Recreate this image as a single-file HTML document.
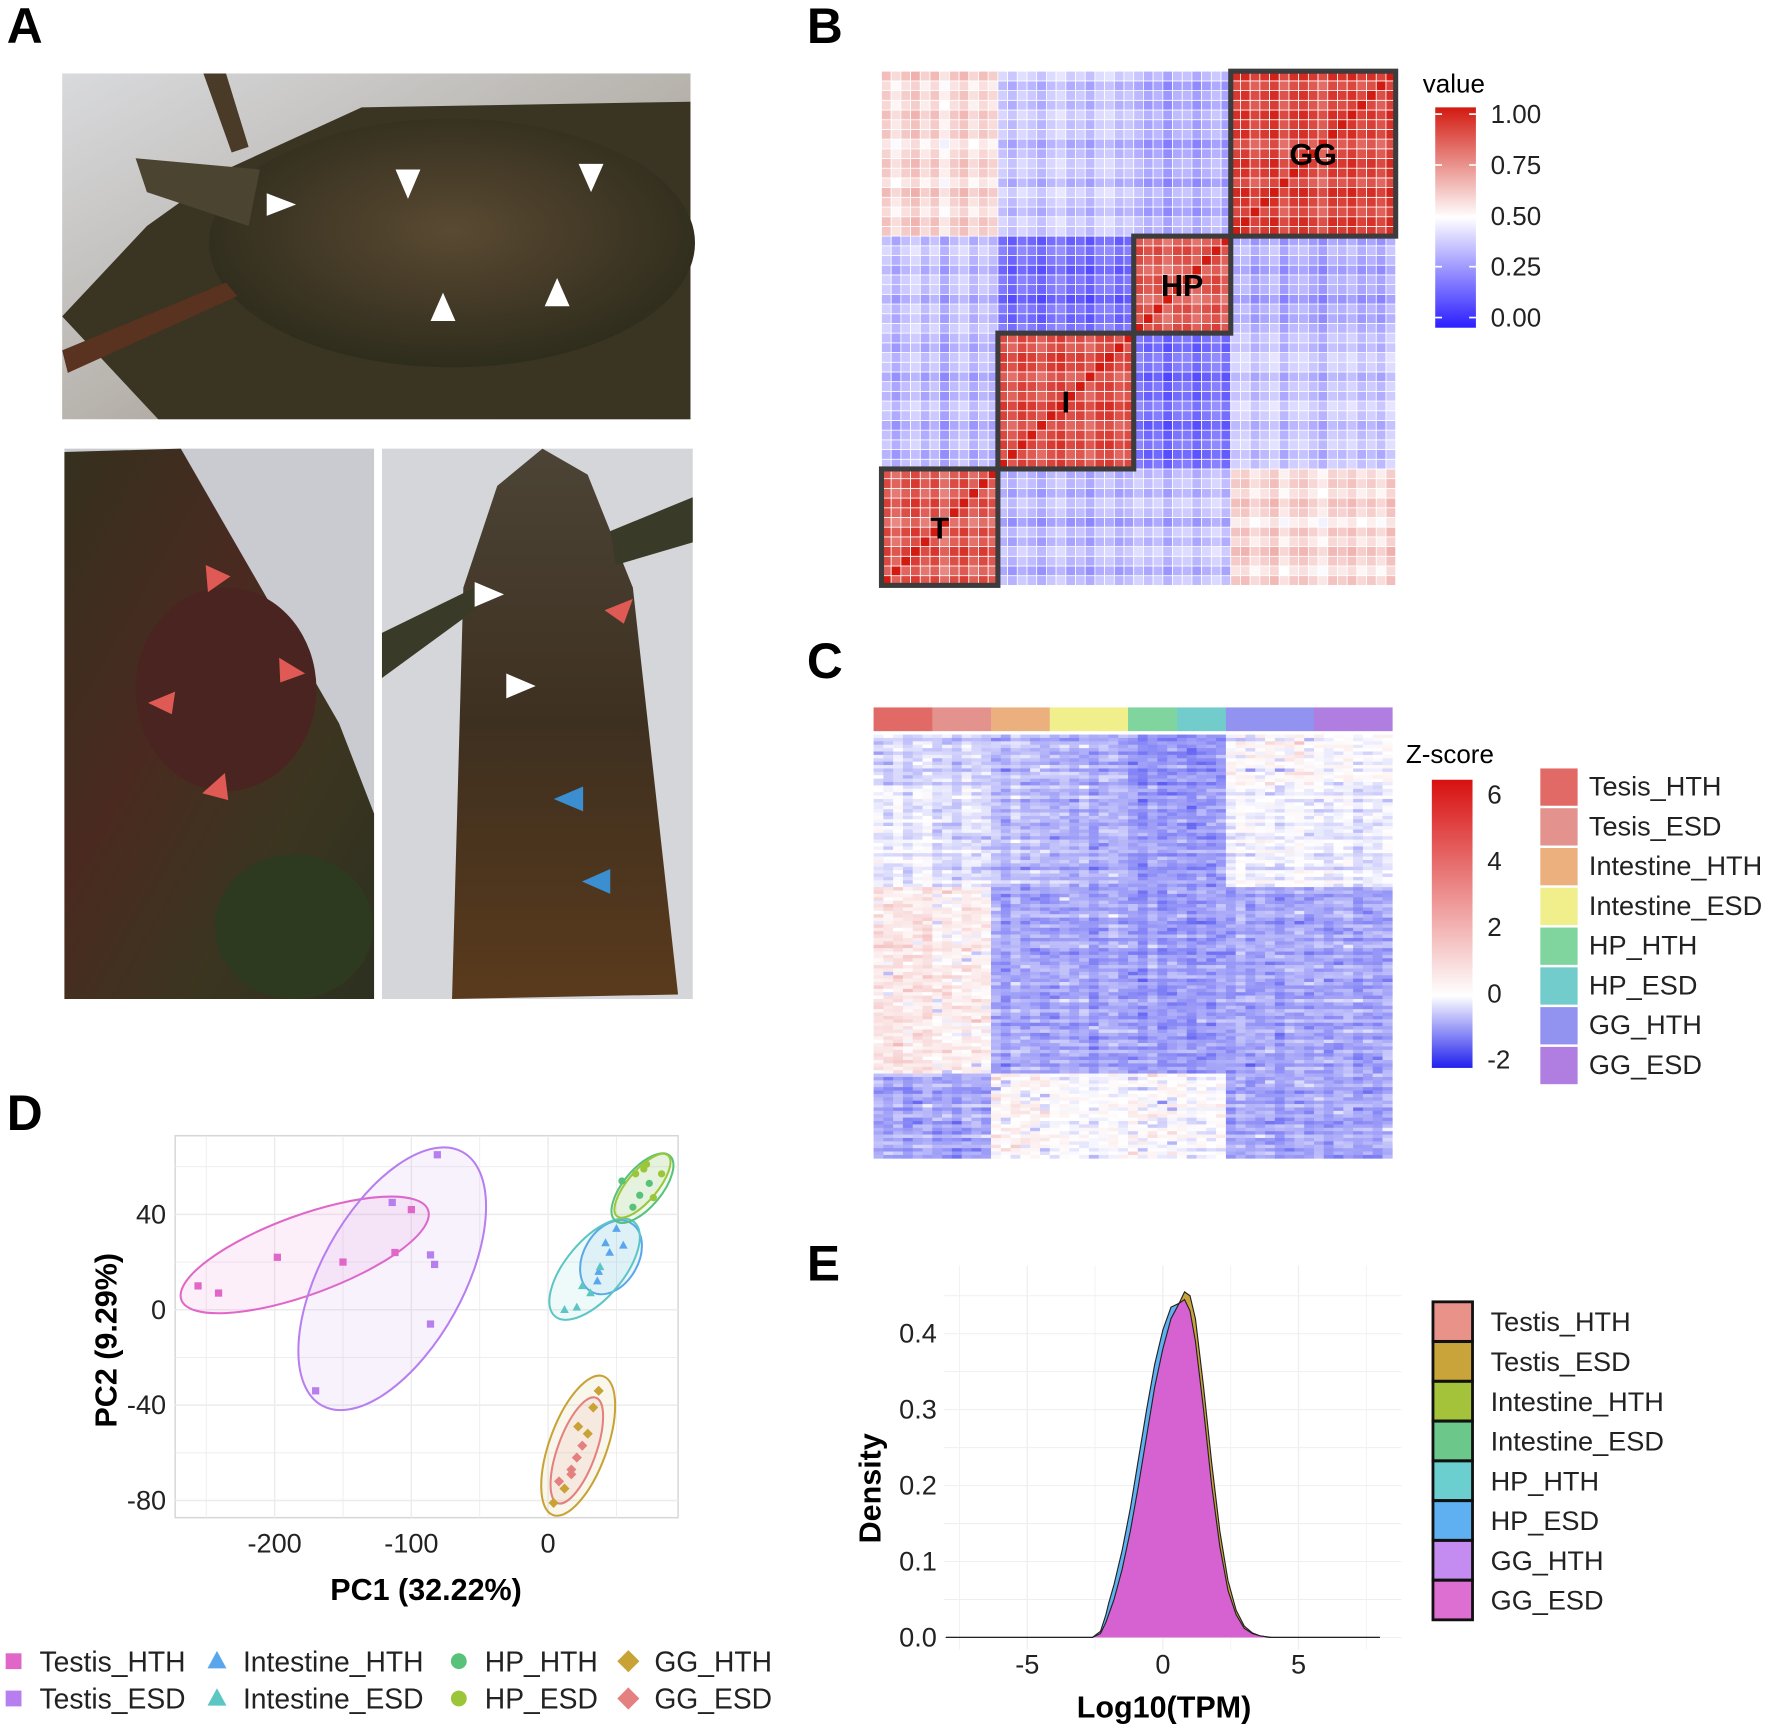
<!DOCTYPE html>
<html><head><meta charset="utf-8"><style>
html,body{margin:0;padding:0;background:#fff;}
svg{display:block;font-family:"Liberation Sans",Arial,sans-serif;}
</style></head><body>
<svg id="fig" width="1772" height="1729" viewBox="0 0 1568 1530" preserveAspectRatio="none" xmlns="http://www.w3.org/2000/svg">
<defs>
<linearGradient id="bgTop" x1="0" y1="0" x2="1" y2="1"><stop offset="0" stop-color="#d9dadd"/><stop offset="0.5" stop-color="#b8b4ae"/><stop offset="1" stop-color="#8f887c"/></linearGradient>
<radialGradient id="shell" cx="0.5" cy="0.45" r="0.6"><stop offset="0" stop-color="#5a4a32"/><stop offset="0.6" stop-color="#3e3624"/><stop offset="1" stop-color="#2a2a1a"/></radialGradient>
<linearGradient id="tailL" x1="0" y1="0" x2="1" y2="1"><stop offset="0" stop-color="#35301f"/><stop offset="0.4" stop-color="#4a2a20"/><stop offset="0.7" stop-color="#3b3520"/><stop offset="1" stop-color="#2d3020"/></linearGradient>
<linearGradient id="tailR" x1="0" y1="0" x2="0" y2="1"><stop offset="0" stop-color="#4c4436"/><stop offset="0.5" stop-color="#3e3020"/><stop offset="1" stop-color="#5a3a1c"/></linearGradient>
<linearGradient id="cbB" x1="0" y1="1" x2="0" y2="0"><stop offset="0" stop-color="#2b1eff"/><stop offset="0.5" stop-color="#ffffff"/><stop offset="1" stop-color="#d21a10"/></linearGradient>
<linearGradient id="cbC" x1="0" y1="1" x2="0" y2="0"><stop offset="0" stop-color="#2020ee"/><stop offset="0.25" stop-color="#ffffff"/><stop offset="1" stop-color="#d81010"/></linearGradient>
<clipPath id="clipD"><rect x="155" y="1005" width="445" height="338"/></clipPath>
</defs>

<text x="6" y="38" font-size="44" font-weight="bold">A</text>
<text x="714" y="38" font-size="44" font-weight="bold">B</text>
<text x="714" y="600" font-size="44" font-weight="bold">C</text>
<text x="6" y="1000" font-size="44" font-weight="bold">D</text>
<text x="714" y="1133" font-size="44" font-weight="bold">E</text>

<g>
<rect x="55" y="65" width="556" height="306" fill="url(#bgTop)"/>
<path d="M55,280 L130,200 L200,150 L320,95 L611,90 L611,371 L140,371 Z" fill="#3a3422"/>
<ellipse cx="400" cy="215" rx="215" ry="110" fill="url(#shell)"/>
<path d="M120,140 L230,150 L220,200 L130,170Z" fill="#4a4430"/>
<path d="M55,310 L200,250 L210,262 L60,330Z" fill="#5a3220"/>
<path d="M180,65 L200,65 L220,130 L205,135Z" fill="#4a3a28"/>
<polygon points="236,171 236,191 262,181" fill="#fff"/>
<polygon points="350,150 372,150 361,176" fill="#fff"/>
<polygon points="512,145 534,145 523,170" fill="#fff"/>
<polygon points="381,284 403,284 392,259" fill="#fff"/>
<polygon points="482,271 504,271 493,246" fill="#fff"/>
</g>
<g>
<rect x="57" y="397" width="274" height="487" fill="#c9cbd0"/>
<path d="M57,400 L160,397 L300,640 L331,720 L331,884 L57,884Z" fill="url(#tailL)"/>
<ellipse cx="200" cy="610" rx="80" ry="90" fill="#4a2420"/>
<ellipse cx="260" cy="820" rx="70" ry="64" fill="#2e3a20"/>
<polygon points="182,500 204,510 184,524" fill="#e05a55"/>
<polygon points="247,582 270,596 248,604" fill="#e05a55"/>
<polygon points="131,622 155,612 152,632" fill="#e05a55"/>
<polygon points="179,702 199,684 202,708" fill="#e05a55"/>
</g>
<g>
<rect x="338" y="397" width="275" height="487" fill="#d4d6da"/>
<path d="M400,884 L410,520 L440,430 L480,397 L520,420 L560,520 L600,880Z" fill="url(#tailR)"/>
<path d="M338,560 L420,520 L420,540 L338,600Z" fill="#3a3a28"/>
<path d="M540,470 L613,440 L613,480 L545,500Z" fill="#3a3a28"/>
<polygon points="420,515 420,537 446,526" fill="#fff"/>
<polygon points="448,596 448,618 474,607" fill="#fff"/>
<polygon points="535,540 560,530 552,552" fill="#e05a55"/>
<polygon points="490,707 516,696 516,718" fill="#3b8fd0"/>
<polygon points="515,780 540,769 540,791" fill="#3b8fd0"/>
</g>

<g id="panelB"></g>
<g id="panelC"></g>
<g id="panelD"></g>
<g id="panelE"></g>
</svg>

<script>
// ===== Panel B data =====
const bGroups = ["T","I","HP","GG"];
const bGroupSizes = [12,14,10,17];
const bGroupCorr = [
  [0.86,0.33,0.35,0.58],
  [0.33,0.88,0.17,0.36],
  [0.35,0.17,0.85,0.30],
  [0.58,0.36,0.30,0.90]
];
const bSampleOffsets = [0.05,-0.08,0.03,0.10,-0.04,0.06,-0.12,0.02,0.08,-0.06,0.04,-0.02,
  0.03,-0.05,0.06,0.01,-0.07,0.04,0.09,-0.03,0.02,-0.08,0.05,0.07,-0.04,0.01,
  0.06,-0.02,0.04,-0.09,0.03,0.05,-0.06,0.02,0.08,-0.03,
  0.04,0.07,-0.05,0.02,0.09,-0.08,0.03,0.06,-0.02,-0.10,0.05,0.01,0.07,-0.04,0.03,-0.06,0.08];
const bTicks = [0,0.25,0.5,0.75,1.0];
const bTickLabels = ["0.00","0.25","0.50","0.75","1.00"];

// ===== Panel C data =====
const cGroups = ["Tesis_HTH","Tesis_ESD","Intestine_HTH","Intestine_ESD","HP_HTH","HP_ESD","GG_HTH","GG_ESD"];
const cGroupSizes = [6,6,6,8,5,5,9,8];
const cGroupColors = ["#e26a66","#e3928e","#ebb07e","#f1ee8c","#80d49e","#72cccc","#9292f0","#b07ee0"];
const cClusterRows = [15,30,55,25];
const cClusterMeans = [
  [-0.4,-0.4,-0.6,-0.7,-1.0,-1.0,0.1,0.0],
  [-0.2,-0.3,-0.6,-0.7,-0.9,-0.9,-0.1,-0.2],
  [0.6,0.4,-0.8,-0.8,-0.9,-0.9,-0.8,-0.8],
  [-0.8,-0.8,0.2,0.0,0.1,0.0,-0.8,-0.8]
];
const cRowNoise = [0.3,-0.4,0.1,0.6,-0.2,-0.5,0.4,0.0,-0.3,0.7,-0.6,0.2,0.5,-0.1,-0.7,0.3,0.1,-0.4,0.8,-0.2,0.0,0.4,-0.5,0.2,-0.3];
const cColNoise = [0.5,-0.3,0.8,-0.6,0.2,1.0,-0.4,0.3,-0.8,0.6,0.1,-0.2,0.4,-0.7,0.9,-0.1,0.3,-0.5,0.2,0.7,-0.3,0.5,-0.9,0.1,
  0.6,-0.2,0.4,-0.6,0.8,-0.4,0.2,0.5,-0.7,0.3,-0.1,0.6,-0.5,0.9,-0.3,0.1,0.4,-0.8,0.2,0.7,-0.2,0.5,-0.4,0.3,0.8,-0.6,0.1,-0.3,0.6];
const cTicks = [-2,0,2,4,6];

// ===== Panel D data =====
const dSeries = ["Testis_HTH","Testis_ESD","Intestine_HTH","Intestine_ESD","HP_HTH","HP_ESD","GG_HTH","GG_ESD"];
const dColors = ["#e066c8","#b77ef0","#5aa6ee","#5cc6c4","#58c27a","#9cc63a","#c9a236","#e48080"];
const dShapes = ["square","square","triangle","triangle","circle","circle","diamond","diamond"];
const dX_TestisHTH = [-256,-241,-198,-150,-112,-100];
const dY_TestisHTH = [10,7,22,20,24,42];
const dX_TestisESD = [-114,-81,-86,-83,-86,-170];
const dY_TestisESD = [45,65,23,19,-6,-34];
const dX_IntHTH = [37,42,50,45,55,36];
const dY_IntHTH = [16,28,34,24,27,12];
const dX_IntESD = [21,12,31,25,38];
const dY_IntESD = [1,0,7,10,18];
const dX_HPHTH = [54,62,67,74];
const dY_HPHTH = [54,43,48,53];
const dX_HPESD = [64,70,72,77,83];
const dY_HPESD = [57,59,61,47,57];
const dX_GGHTH = [4,12,22,29,37,33];
const dY_GGHTH = [-81,-75,-49,-52,-34,-41];
const dX_GGESD = [17,21,25,17,8];
const dY_GGESD = [-69,-62,-57,-67,-72];
const dEllCX = [-178,-114,46,34,69,69,22,21];
const dEllCY = [23,13,22,17,51,52,-57,-59];
const dEllA = [96,106,29,45,31,29,54,41];
const dEllB = [29,52,20,21,14,11,21,14];
const dEllAng = [-20,-61,-60,-50,-50,-50,-70,-70];
const dXTicks = [-200,-100,0];
const dYTicks = [40,0,-40,-80];

// ===== Panel E data =====
const eX = [-2.6,-2.3,-2.1,-2.0,-1.8,-1.5,-1.2,-0.9,-0.6,-0.3,0,0.3,0.6,0.8,1.0,1.2,1.5,1.8,2.1,2.4,2.7,3.0,3.3,3.6,4.0];
const eGold = [0,0.004,0.015,0.025,0.045,0.08,0.125,0.18,0.24,0.3,0.355,0.405,0.44,0.455,0.45,0.42,0.33,0.23,0.14,0.075,0.036,0.015,0.006,0.002,0];
const eBlue = [0,0.008,0.03,0.045,0.07,0.115,0.17,0.235,0.3,0.36,0.405,0.435,0.44,0.425,0.395,0.345,0.25,0.16,0.09,0.045,0.02,0.008,0.003,0.001,0];
const eMagenta = [0,0.005,0.02,0.03,0.05,0.09,0.14,0.2,0.265,0.33,0.38,0.42,0.44,0.445,0.43,0.39,0.3,0.2,0.12,0.062,0.03,0.012,0.005,0.002,0];
const eYTicks = [0,0.1,0.2,0.3,0.4];
const eXTicks = [-5,0,5];
const eLegend = ["Testis_HTH","Testis_ESD","Intestine_HTH","Intestine_ESD","HP_HTH","HP_ESD","GG_HTH","GG_ESD"];
const eLegendColors = ["#e8928a","#c9a43a","#a4c23a","#6cc88a","#6ccfcf","#5eb0f0","#c48cf0","#de6fd2"];

const NS = "http://www.w3.org/2000/svg";
function mk(tag, attrs, parent){ const e=document.createElementNS(NS,tag); for(const k in attrs) e.setAttribute(k,attrs[k]); parent.appendChild(e); return e; }
function lerp(a,b,t){return Math.round(a+(b-a)*t);}
function colB(v){ v=Math.max(0,Math.min(1,v));
  if(v<0.5){const t=v/0.5; return `rgb(${lerp(43,255,t)},${lerp(30,255,t)},255)`;}
  const t=(v-0.5)/0.5; return `rgb(${lerp(255,210,t)},${lerp(255,26,t)},${lerp(255,16,t)})`; }
function colC(z){ z=Math.max(-2,Math.min(6,z));
  if(z<0){const t=(z+2)/2; return `rgb(${lerp(32,255,t)},${lerp(32,255,t)},${lerp(238,255,t)})`;}
  const t=z/6; return `rgb(${lerp(255,216,t)},${lerp(255,16,t)},${lerp(255,16,t)})`; }

// ---------- Panel B ----------
(function(){
  const g=document.getElementById("panelB");
  const x0=780,y0=63,size=455;
  const n=bGroupSizes.reduce((a,b)=>a+b,0);
  const cell=size/n;
  const grp=[]; bGroupSizes.forEach((s,gi)=>{for(let k=0;k<s;k++)grp.push(gi);});
  for(let r=0;r<n;r++){
    for(let c=0;c<n;c++){
      let v = r===c ? 1 : bGroupCorr[grp[r]][grp[c]] + 0.5*bSampleOffsets[r] + 0.5*bSampleOffsets[c];
      const rc=mk("rect",{x:x0+c*cell,y:y0+(n-1-r)*cell,width:cell,height:cell,fill:colB(v),stroke:"#fff","stroke-width":0.7},g);
      
      
    }
  }
  let start=0;
  bGroupSizes.forEach((s,gi)=>{
    const bx=x0+start*cell, by=y0+(n-start-s)*cell;
    const b=mk("rect",{x:bx,y:by,width:s*cell,height:s*cell,fill:"none",stroke:"#3c3c3c","stroke-width":4.5},g);
    
    
    const t=mk("text",{x:bx+s*cell/2,y:by+s*cell/2+10,"text-anchor":"middle","font-size":27,"font-weight":"bold"},g);
    t.textContent=bGroups[gi];
    
    
    start+=s;
  });
  const ct=mk("text",{x:1259,y:82,"font-size":23},g); ct.textContent="value";
  
  
  const bar=mk("rect",{x:1270,y:95,width:36,height:195,fill:"url(#cbB)"},g);
  
  
  bTicks.forEach((v,i)=>{
    const y=281-v*180;
    const l=mk("line",{x1:1270,x2:1276,y1:y,y2:y,stroke:"#fff","stroke-width":1.5},g);
    
    
    const l2=mk("line",{x1:1300,x2:1306,y1:y,y2:y,stroke:"#fff","stroke-width":1.5},g);
    
    
    const t=mk("text",{x:1319,y:y+8,"font-size":23,fill:"#222"},g); t.textContent=bTickLabels[i];
    
    
  });
})();

// ---------- Panel C ----------
(function(){
  const g=document.getElementById("panelC");
  const x0=773,w=459,yTop=626,yBody=650,yEnd=1025;
  const n=cGroupSizes.reduce((a,b)=>a+b,0);
  const cw=w/n;
  const grp=[]; cGroupSizes.forEach((s,gi)=>{for(let k=0;k<s;k++)grp.push(gi);});
  let start=0;
  cGroupSizes.forEach((s,gi)=>{
    const a=mk("rect",{x:x0+start*cw,y:yTop,width:s*cw+0.3,height:21,fill:cGroupColors[gi]},g);
    
    
    start+=s;
  });
  const nRows=cClusterRows.reduce((a,b)=>a+b,0);
  const rh=(yEnd-yBody)/nRows;
  let r=0;
  cClusterRows.forEach((cnt,ci)=>{
    for(let k=0;k<cnt;k++,r++){
      const rn=cRowNoise[r%cRowNoise.length];
      for(let c=0;c<n;c++){
        const cn=cColNoise[c];
        const cross=cRowNoise[(r*7+c*3)%cRowNoise.length]*cColNoise[(c*5+r)%cColNoise.length];
        const m=cClusterMeans[ci][grp[c]];
        const z=m+0.25*rn+0.15*cn+(m>0?1.6:0.7)*cross;
        const rc=mk("rect",{x:x0+c*cw,y:yBody+r*rh,width:cw+0.3,height:rh+0.3,fill:colC(z)},g);
        
        
      }
    }
  });
  const ct=mk("text",{x:1244,y:675,"font-size":23},g); ct.textContent="Z-score";
  
  
  const bar=mk("rect",{x:1267,y:690,width:36,height:255,fill:"url(#cbC)"},g);
  
  
  cTicks.forEach(v=>{
    const y=879-v*29.3;
    const t=mk("text",{x:1316,y:y+8,"font-size":23,fill:"#222"},g); t.textContent=String(v);
    
    
  });
  cGroups.forEach((name,i)=>{
    const y=680+i*35.2;
    const s=mk("rect",{x:1363,y:y,width:33,height:33,fill:cGroupColors[i]},g);
    
    
    const t=mk("text",{x:1406,y:y+24,"font-size":24,fill:"#222"},g); t.textContent=name;
    
    
  });
})();

// ---------- Panel D ----------
(function(){
  const g=document.getElementById("panelD");
  const px=v=>485+v*1.21, py=v=>1159-v*2.11;
  const bg=mk("rect",{x:155,y:1005,width:445,height:338,fill:"#fff",stroke:"#d6d6d6","stroke-width":1.3},g);
  
  
  [-250,-200,-150,-100,-50,0,50].forEach(v=>{
    const l=mk("line",{x1:px(v),x2:px(v),y1:1005,y2:1343,stroke:"#ececec","stroke-width":v%100===0?1.3:0.8},g);
    
    
  });
  [60,40,20,0,-20,-40,-60,-80].forEach(v=>{
    const l=mk("line",{x1:155,x2:600,y1:py(v),y2:py(v),stroke:"#ececec","stroke-width":v%40===0?1.3:0.8},g);
    
    
  });
  const cg=mk("g",{"clip-path":"url(#clipD)"},g);
  dSeries.forEach((s,i)=>{
    const e=mk("ellipse",{cx:px(dEllCX[i]),cy:py(dEllCY[i]),rx:dEllA[i]*1.21,ry:dEllB[i]*1.21,
      transform:`rotate(${dEllAng[i]} ${px(dEllCX[i])} ${py(dEllCY[i])})`,fill:dColors[i],"fill-opacity":0.1,stroke:dColors[i],"stroke-width":1.8},cg);
    
    
  });
  function marker(shape,x,y,color,parent,s){
    let m;
    if(shape==="square") m=mk("rect",{x:x-s,y:y-s,width:2*s,height:2*s,fill:color},parent);
    else if(shape==="triangle") m=mk("polygon",{points:`${x},${y-s*1.3} ${x-s*1.2},${y+s*0.9} ${x+s*1.2},${y+s*0.9}`,fill:color},parent);
    else if(shape==="circle") m=mk("circle",{cx:x,cy:y,r:s,fill:color},parent);
    else m=mk("polygon",{points:`${x},${y-s*1.4} ${x+s*1.4},${y} ${x},${y+s*1.4} ${x-s*1.4},${y}`,fill:color},parent);
    return m;
  }
  const xs=[dX_TestisHTH,dX_TestisESD,dX_IntHTH,dX_IntESD,dX_HPHTH,dX_HPESD,dX_GGHTH,dX_GGESD];
  const ys=[dY_TestisHTH,dY_TestisESD,dY_IntHTH,dY_IntESD,dY_HPHTH,dY_HPESD,dY_GGHTH,dY_GGESD];
  xs.forEach((arr,i)=>{
    arr.forEach((v,j)=>{
      const m=marker(dShapes[i],px(v),py(ys[i][j]),dColors[i],cg,3.2);
      
      
    });
  });
  dXTicks.forEach(v=>{
    const t=mk("text",{x:px(v),y:1374,"text-anchor":"middle","font-size":24,fill:"#222"},g); t.textContent=String(v);
    
    
  });
  dYTicks.forEach(v=>{
    const t=mk("text",{x:147,y:py(v)+8,"text-anchor":"end","font-size":24,fill:"#222"},g); t.textContent=String(v);
    
    
  });
  const xt=mk("text",{x:377,y:1416,"text-anchor":"middle","font-size":27,"font-weight":"bold"},g); xt.textContent="PC1 (32.22%)";
  
  
  const yt=mk("text",{x:0,y:0,transform:"translate(103,1186) rotate(-90)","text-anchor":"middle","font-size":27,"font-weight":"bold"},g); yt.textContent="PC2 (9.29%)";
  
  
  const lx=[10,190,404,554], lyy=[1479,1512];
  dSeries.forEach((s,i)=>{
    const col=Math.floor(i/2), row=i%2;
    const x=lx[col], y=lyy[row];
    const m=marker(dShapes[i],x+2,y-9,dColors[i],g,7);
    
    
    const t=mk("text",{x:x+25,y:y,"font-size":25,fill:"#222"},g); t.textContent=s;
    
    
  });
})();

// ---------- Panel E ----------
(function(){
  const g=document.getElementById("panelE");
  const px=v=>1029+v*24, py=v=>1449-v*672;
  [-7.5,-5,-2.5,0,2.5,5,7.5].forEach(v=>{
    const l=mk("line",{x1:px(v),x2:px(v),y1:1120,y2:1460,stroke:"#efefef","stroke-width":v%5===0?1.2:0.7},g);
    
    
  });
  [0,0.05,0.1,0.15,0.2,0.25,0.3,0.35,0.4,0.45].forEach(v=>{
    const l=mk("line",{x1:835,x2:1240,y1:py(v),y2:py(v),stroke:"#efefef","stroke-width":0.9},g);
    
    
  });
  function area(vals,color,name){
    let d=`M${px(-8)},${py(0)} L${px(eX[0])},${py(0)} `;
    eX.forEach((x,i)=>{d+=`L${px(x).toFixed(1)},${py(vals[i]).toFixed(1)} `;});
    d+=`L${px(8)},${py(0)}`;
    const p=mk("path",{d:d,fill:color,stroke:"#222","stroke-width":1},g);
    
    
  }
  area(eGold,"#c9a43a","density-testis-esd");
  area(eBlue,"#5eb0f0","density-hp-esd");
  area(eMagenta,"#d662d2","density-gg-esd");
  eYTicks.forEach(v=>{
    const t=mk("text",{x:829,y:py(v)+8,"text-anchor":"end","font-size":24,fill:"#222"},g); t.textContent=v.toFixed(1);
    
    
  });
  eXTicks.forEach(v=>{
    const t=mk("text",{x:px(v),y:1481,"text-anchor":"middle","font-size":24,fill:"#222"},g); t.textContent=String(v);
    
    
  });
  const xt=mk("text",{x:1030,y:1520,"text-anchor":"middle","font-size":27,"font-weight":"bold"},g); xt.textContent="Log10(TPM)";
  
  
  const yt=mk("text",{x:0,y:0,transform:"translate(779,1317) rotate(-90)","text-anchor":"middle","font-size":27,"font-weight":"bold"},g); yt.textContent="Density";
  
  
  eLegend.forEach((s,i)=>{
    const y=1152+i*35.2;
    const r=mk("rect",{x:1268,y:y,width:35,height:35,fill:eLegendColors[i],stroke:"#111","stroke-width":2.5},g);
    
    
    const t=mk("text",{x:1319,y:y+26,"font-size":24,fill:"#222"},g); t.textContent=s;
    
    
  });
})();
</script>
</body></html>
